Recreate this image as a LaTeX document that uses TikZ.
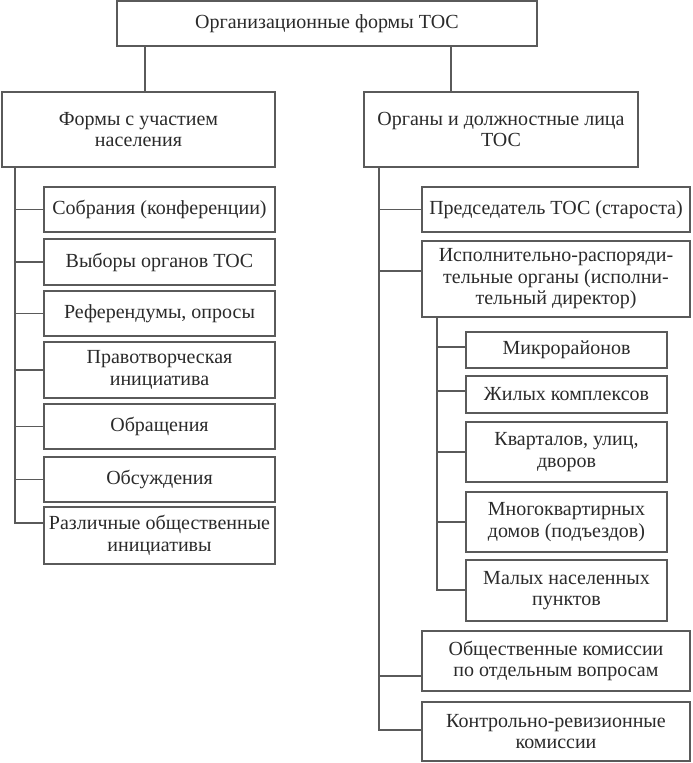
\documentclass[tikz,border=0pt]{standalone}
\usepackage{fontspec}
\setmainfont{Liberation Serif}
\definecolor{linegray}{HTML}{5A5A5A}
\definecolor{textgray}{HTML}{2A2A2A}
\begin{document}
\begin{tikzpicture}[x=1pt,y=-1pt,
  box/.style={draw=linegray, line width=1.3pt, text=textgray, align=center,
    inner sep=0pt, font=\fontsize{20}{21.5}\selectfont},
  conn/.style={draw=linegray, line width=1.3pt}]
\useasboundingbox (0,0) rectangle (693,763);
% top level
\node[box, minimum width=420, minimum height=45] (top) at (327,23.5) {Организационные формы ТОС};
\node[box, minimum width=273, minimum height=75] (L) at (138.5,129.5) {Формы с участием\\населения};
\node[box, minimum width=274, minimum height=75] (R) at (501,129.5) {Органы и должностные лица\\ТОС};
% left children
\node[box, minimum width=231, minimum height=45] (l1) at (159.5,209.5) {Собрания (конференции)};
\node[box, minimum width=231, minimum height=46] (l2) at (159.5,262) {Выборы органов ТОС};
\node[box, minimum width=231, minimum height=45] (l3) at (159.5,313.5) {Референдумы, опросы};
\node[box, minimum width=231, minimum height=56] (l4) at (159.5,370) {Правотворческая\\инициатива};
\node[box, minimum width=231, minimum height=45] (l5) at (159.5,426.5) {Обращения};
\node[box, minimum width=231, minimum height=45] (l6) at (159.5,479.5) {Обсуждения};
\node[box, minimum width=231, minimum height=57] (l7) at (159.5,535.5) {Различные общественные\\инициативы};
% right children
\node[box, minimum width=268, minimum height=45] (r1) at (556,209.5) {Председатель ТОС (староста)};
\node[box, minimum width=268, minimum height=76] (r2) at (556,279) {Исполнительно-распоряди-\\тельные органы (исполни-\\тельный директор)};
\node[box, minimum width=201, minimum height=36] (s1) at (566.5,350) {Микрорайонов};
\node[box, minimum width=201, minimum height=37] (s2) at (566.5,394.5) {Жилых комплексов};
\node[box, minimum width=201, minimum height=60] (s3) at (566.5,452) {Кварталов, улиц,\\дворов};
\node[box, minimum width=201, minimum height=60] (s4) at (566.5,522) {Многоквартирных\\домов (подъездов)};
\node[box, minimum width=201, minimum height=61] (s5) at (566.5,590.5) {Малых населенных\\пунктов};
\node[box, minimum width=268, minimum height=60] (r3) at (556,661) {Общественные комиссии\\по отдельным вопросам};
\node[box, minimum width=268, minimum height=59] (r4) at (556,731.5) {Контрольно-ревизионные\\комиссии};
% connectors top
\draw[conn] (top.south -| 145,0) -- (L.north -| 145,0);
\draw[conn] (top.south -| 451,0) -- (R.north -| 451,0);
% left spine
\draw[conn] (L.south -| 15,0) -- (15,523) -- (l7.west |- 0,523);
\draw[conn] (l1.west -| 15,0) -- (l1.west);
\draw[conn] (l2.west -| 15,0) -- (l2.west);
\draw[conn] (l3.west -| 15,0) -- (l3.west);
\draw[conn] (l4.west -| 15,0) -- (l4.west);
\draw[conn] (l5.west -| 15,0) -- (l5.west);
\draw[conn] (l6.west -| 15,0) -- (l6.west);
% right spine
\draw[conn] (R.south -| 379,0) -- (379,730) -- (r4.west |- 0,730);
\draw[conn] (r1.west -| 379,0) -- (r1.west);
\draw[conn] (379,271) -- (r2.west |- 0,271);
\draw[conn] (379,676) -- (r3.west |- 0,676);
% sub spine
\draw[conn] (r2.south -| 437,0) -- (437,590) -- (s5.west |- 0,590);
\draw[conn] (437,347) -- (s1.west |- 0,347);
\draw[conn] (437,391) -- (s2.west |- 0,391);
\draw[conn] (s3.west -| 437,0) -- (s3.west);
\draw[conn] (s4.west -| 437,0) -- (s4.west);
\end{tikzpicture}
\end{document}
